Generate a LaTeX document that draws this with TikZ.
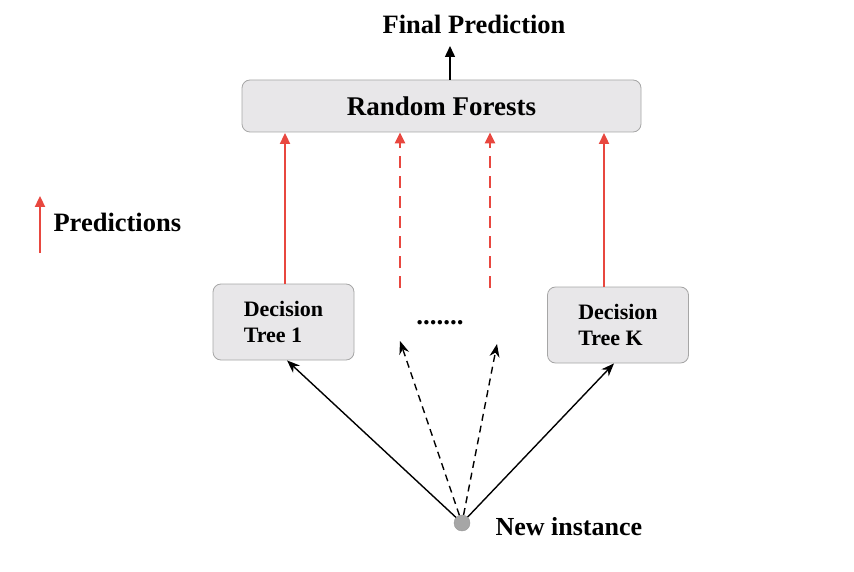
\documentclass[tikz,border=0pt]{standalone}
\usepackage{fontspec}
\setmainfont{Liberation Serif}
\usetikzlibrary{arrows.meta,positioning}
\definecolor{boxgray}{HTML}{E8E7E9}
\definecolor{predred}{HTML}{E8473F}
\tikzset{
  blk/.style={font=\bfseries\fontsize{#1}{#1}\selectfont},
  forestbox/.style={draw=gray!70, fill=boxgray, rounded corners=8pt, line width=0.8pt},
  treebox/.style={forestbox, minimum width=141pt, minimum height=76pt, align=left,
    font=\bfseries\fontsize{22}{26}\selectfont},
  vote/.style={predred, line width=2.3pt, -{Triangle[length=11pt,width=10pt]}},
  feed/.style={black, line width=1.4pt, -{Stealth[length=13pt,width=10pt]}}
}
\begin{document}
\begin{tikzpicture}[x=1pt,y=-1pt]
	\useasboundingbox (0,0) rectangle (854,572);
	\node [forestbox, minimum width=399pt, minimum height=52pt, blk=27] (rf) at (441.5,106) {Random Forests};
	\node [blk=26.5] (final) at (474,24) {Final Prediction};
	\node [treebox] (tree1) at (283.5,322) {Decision\\Tree 1};
	\node [treebox] (treeK) at (618,325) {Decision\\Tree K};
	\node [blk=27] (dots) at (440,323) {.......};
	\filldraw [gray!80, fill=gray!70] (462,523) circle (8pt);
	\node [circle, minimum size=16pt, inner sep=0pt] (new) at (462,523) {};
	\node [blk=26, anchor=west] (newlbl) at (492,527) {New instance};
	% predictions legend
	\coordinate (legtail) at (40,253);
	\coordinate (leghead) at (40,196);
	\draw [vote] (legtail) -- (leghead);
	\node [blk=26.5, anchor=west] (predlbl) at (50,222) {Predictions};
	% votes into the forest
	\draw [black, line width=1.4pt, -{Triangle[length=11pt,width=10pt]}] (rf.north -| 450,0) -- (450,46);
	\draw [vote] (tree1.north -| 285,0) -- (285,133);
	\draw [vote] (treeK.north -| 604,0) -- (604,133);
	\coordinate (midA) at (400,288);
	\coordinate (midB) at (490,288);
	\draw [vote, dash pattern=on 12pt off 8pt] (midA) -- (midA |- rf.south);
	\draw [vote, dash pattern=on 12pt off 8pt] (midB) -- (midB |- rf.south);
	% the new instance goes down every tree
	\coordinate (tipA) at (400,341);
	\coordinate (tipB) at (497,344);
	\draw [feed] (new) -- (tree1.south -| 287,0);
	\draw [feed] (new) -- (treeK.south -| 614,0);
	\draw [feed, dash pattern=on 7pt off 5pt] (new) -- (tipA);
	\draw [feed, dash pattern=on 7pt off 5pt] (new) -- (tipB);
\end{tikzpicture}
\end{document}
